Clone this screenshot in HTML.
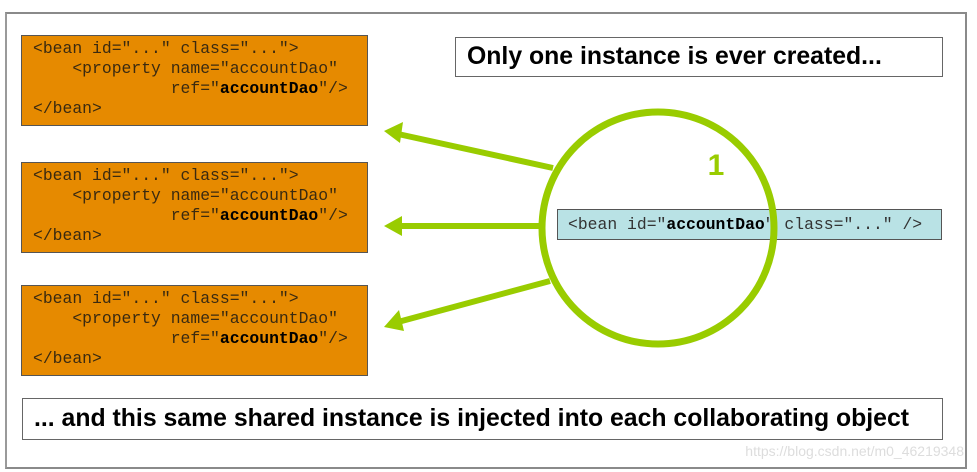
<!DOCTYPE html>
<html><head><style>
body{margin:0;width:977px;height:472px;background:#fff;position:relative;overflow:hidden;font-family:"Liberation Sans",sans-serif}
.frame{position:absolute;left:5px;top:12px;width:958px;height:453px;border:2px solid #8a8a8a;border-left-color:#9a9a9a}
.bean{position:absolute;left:21px;width:347px;height:91px;background:#e68a00;border:1px solid #555;font-family:"Liberation Mono",monospace;font-size:16.4px;line-height:20px;color:#3a2a10;box-sizing:border-box;padding:3px 0 0 11px;white-space:pre}
.bean b{color:#000}
.t{position:absolute;border:1px solid #666;background:#fff;font-weight:bold;color:#000;box-sizing:border-box;white-space:nowrap}
.blue{position:absolute;left:557px;top:209px;width:385px;height:31px;background:#b9e2e5;border:1px solid #555;box-sizing:border-box;font-family:"Liberation Mono",monospace;font-size:16.4px;line-height:29px;padding-left:10px;white-space:pre;color:#333}
</style></head><body>
<div class="frame"></div>
<div class="bean" style="top:35px">&lt;bean id="..." class="..."&gt;
    &lt;property name="accountDao"
              ref="<b>accountDao</b>"/&gt;
&lt;/bean&gt;</div>
<div class="bean" style="top:162px">&lt;bean id="..." class="..."&gt;
    &lt;property name="accountDao"
              ref="<b>accountDao</b>"/&gt;
&lt;/bean&gt;</div>
<div class="bean" style="top:285px">&lt;bean id="..." class="..."&gt;
    &lt;property name="accountDao"
              ref="<b>accountDao</b>"/&gt;
&lt;/bean&gt;</div>
<div class="t" style="left:455px;top:37px;width:488px;height:40px;font-size:24.8px;line-height:38px;padding-left:11px">Only one instance is ever created...</div>
<div class="t" style="left:22px;top:398px;width:921px;height:42px;font-size:24.8px;line-height:40px;padding-left:11px">... and this same shared instance is injected into each collaborating object</div>
<div class="blue">&lt;bean id="<b style="color:#000">accountDao</b>" class="..." /&gt;</div>
<svg width="977" height="472" style="position:absolute;left:0;top:0">
<circle cx="658" cy="228" r="116" fill="none" stroke="#99cc00" stroke-width="7"/>
<g stroke="#99cc00" stroke-width="6" fill="#99cc00">
<line x1="553" y1="168" x2="398" y2="134"/>
<line x1="540" y1="226" x2="398" y2="226"/>
<line x1="550" y1="281" x2="398" y2="322"/>
</g>
<g fill="#99cc00">
<polygon points="384,131 403,122 400,143"/>
<polygon points="384,226 402,216 402,236"/>
<polygon points="384,327 399,310 404,331"/>
</g>
<text x="716" y="175" font-family="Liberation Sans" font-weight="bold" font-size="30" fill="#99cc00" text-anchor="middle">1</text>
<text x="964" y="456" font-family="Liberation Sans" font-size="14" fill="#ddd" text-anchor="end">https://blog.csdn.net/m0_46219348</text>
</svg>
</body></html>
